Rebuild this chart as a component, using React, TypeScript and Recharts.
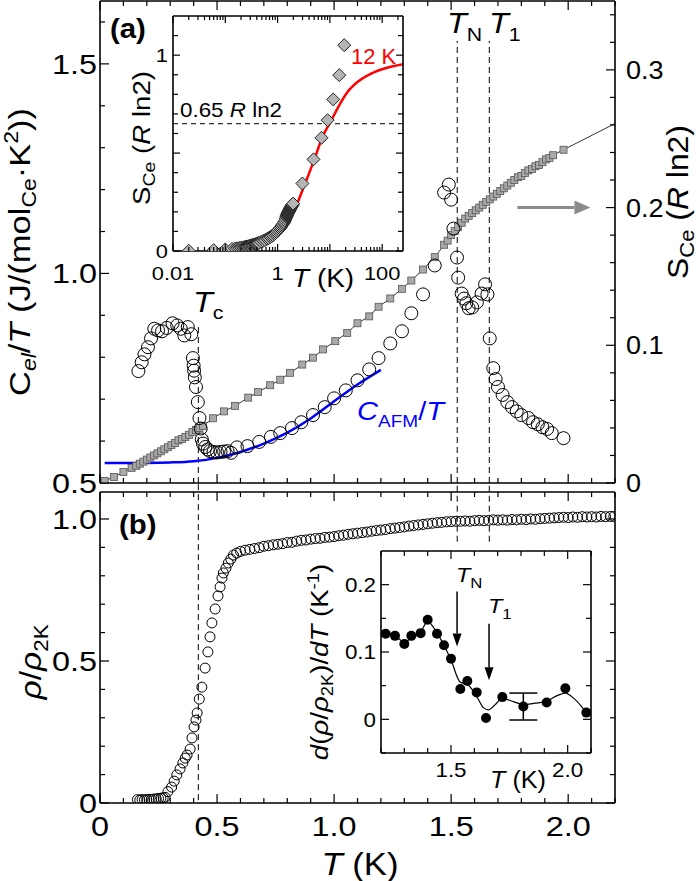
import React from 'react';
import { ComposedChart, Line, Scatter, XAxis, YAxis, ReferenceLine, ErrorBar } from 'recharts';

const FONT = '"Liberation Sans", Arial, Helvetica, sans-serif';
const SX = 1.12;

// ---------- Panel (a): entropy S_Ce (right axis), grey squares ----------
const sT = [0.02, 0.06, 0.10, 0.135, 0.155, 0.17, 0.185, 0.20, 0.215, 0.23, 0.245, 0.26, 0.275, 0.29, 0.305, 0.32, 0.335, 0.35, 0.365, 0.38, 0.395, 0.41, 0.425, 0.44,
  0.483, 0.53, 0.577, 0.633, 0.675, 0.727, 0.77, 0.812, 0.864, 0.91, 0.953, 1.005, 1.056, 1.10, 1.15, 1.19, 1.24, 1.29, 1.33, 1.38, 1.43,
  1.47, 1.485, 1.50, 1.515, 1.53, 1.545, 1.56, 1.575, 1.59, 1.605, 1.62, 1.635, 1.65, 1.665, 1.68, 1.695, 1.71, 1.725, 1.74, 1.755, 1.77, 1.785, 1.80, 1.815, 1.83, 1.845, 1.86, 1.875, 1.89, 1.905, 1.92, 1.935, 1.98];
const sVal = [0.0015, 0.0044, 0.008, 0.011, 0.0125, 0.014, 0.0155, 0.017, 0.0185, 0.020, 0.0215, 0.023, 0.0245, 0.026, 0.0275, 0.029, 0.031, 0.032, 0.0335, 0.035, 0.037, 0.0385, 0.040, 0.0415,
  0.047, 0.052, 0.056, 0.062, 0.066, 0.071, 0.075, 0.080, 0.086, 0.091, 0.097, 0.103, 0.109, 0.116, 0.121, 0.128, 0.134, 0.141, 0.147, 0.155, 0.164,
  0.173, 0.176, 0.180, 0.183, 0.186, 0.189, 0.192, 0.194, 0.196, 0.198, 0.200, 0.202, 0.204, 0.206, 0.208, 0.210, 0.212, 0.214, 0.216, 0.218, 0.220, 0.222, 0.223, 0.225, 0.227, 0.228, 0.230, 0.231, 0.233, 0.235, 0.236, 0.238, 0.242];
const sTailT = 2.2;
const sTailVal = 0.261;

// ---------- Panel (a): C_el/T open circles (left axis) ----------
const cT = [0.164, 0.178, 0.19, 0.205, 0.218, 0.232, 0.248, 0.265, 0.285, 0.31, 0.33, 0.345, 0.36, 0.375, 0.39,
  0.397, 0.40, 0.402, 0.405, 0.41, 0.418, 0.425, 0.43, 0.435, 0.44, 0.45, 0.46, 0.47, 0.485, 0.50, 0.515, 0.53, 0.545, 0.56, 0.585,
  0.63, 0.68, 0.73, 0.77, 0.82, 0.86, 0.91, 0.96, 1.00, 1.05, 1.10, 1.15, 1.19, 1.24, 1.29, 1.33, 1.38, 1.43,
  1.47, 1.49, 1.50, 1.51, 1.525, 1.53, 1.545, 1.555, 1.565, 1.575, 1.59, 1.61, 1.63, 1.645, 1.655,
  1.665, 1.68, 1.69, 1.70, 1.72, 1.74, 1.76, 1.78, 1.80, 1.83, 1.85, 1.87, 1.89, 1.91, 1.93, 1.98];
const cVal = [0.767, 0.788, 0.807, 0.824, 0.845, 0.868, 0.864, 0.862, 0.870, 0.881, 0.876, 0.868, 0.852, 0.872, 0.855,
  0.798, 0.780, 0.768, 0.752, 0.729, 0.693, 0.655, 0.630, 0.604, 0.594, 0.586, 0.580, 0.576, 0.574, 0.573, 0.574, 0.575, 0.576, 0.572, 0.585,
  0.588, 0.598, 0.610, 0.619, 0.631, 0.645, 0.662, 0.681, 0.702, 0.721, 0.745, 0.771, 0.798, 0.833, 0.862, 0.905, 0.950, 1.019,
  1.193, 1.212, 1.176, 1.107, 1.038, 0.990, 0.952, 0.940, 0.929, 0.917, 0.919, 0.931, 0.952, 0.974, 0.950,
  0.845, 0.774, 0.748, 0.729, 0.710, 0.693, 0.681, 0.671, 0.662, 0.655, 0.645, 0.640, 0.633, 0.629, 0.619, 0.607];

// C_AFM/T (blue)
const afmT = [0.02, 0.1, 0.2, 0.3, 0.4, 0.5, 0.6, 0.7, 0.8, 0.9, 1.0, 1.1, 1.2];
const afmVal = [0.548, 0.548, 0.548, 0.549, 0.552, 0.560, 0.574, 0.594, 0.620, 0.654, 0.695, 0.735, 0.770];

// characteristic temperatures
const Tc = 0.42;
const TN = 1.526;
const T1 = 1.663;

// ---------- Inset (a): S_Ce vs log T ----------
const hiT = [2.98, 4.86, 6.92, 9.03, 11.57, 15.1, 18.8];
const hiVal = [0.345, 0.468, 0.578, 0.668, 0.774, 0.898, 1.051];
const fitT = [0.1345, 0.407, 0.733, 1.32, 2.22, 3.2, 4.99, 7.24, 10.45, 14.1, 21.9, 34.1, 61.4, 128.8, 257];
const fitVal = [0.014, 0.039, 0.073, 0.124, 0.225, 0.33, 0.464, 0.583, 0.663, 0.73, 0.813, 0.864, 0.906, 0.937, 0.954];
const level065 = 0.65;

// ---------- Panel (b): rho / rho_2K ----------
const rT = [0.16, 0.17, 0.18, 0.19, 0.20, 0.21, 0.22, 0.23, 0.24, 0.25, 0.26, 0.27,
  0.278, 0.29, 0.306, 0.317, 0.328, 0.342, 0.354, 0.364, 0.372, 0.385, 0.393, 0.402, 0.41, 0.415, 0.424, 0.435, 0.449, 0.461, 0.47, 0.478, 0.492, 0.504, 0.513, 0.521, 0.527, 0.538, 0.548, 0.559, 0.57, 0.584, 0.60,
  0.62, 0.64, 0.66, 0.68, 0.70, 0.72, 0.74, 0.76, 0.78, 0.80, 0.82, 0.84, 0.86, 0.88, 0.90, 0.92, 0.94, 0.96, 0.98, 1.00,
  1.02, 1.04, 1.06, 1.08, 1.10, 1.12, 1.14, 1.16, 1.18, 1.20, 1.22, 1.24, 1.26, 1.28, 1.30, 1.32, 1.34, 1.36, 1.38, 1.40,
  1.42, 1.44, 1.46, 1.48, 1.50, 1.52, 1.54, 1.56, 1.58, 1.60, 1.62, 1.64, 1.66, 1.68, 1.70, 1.72, 1.74, 1.76, 1.78, 1.80,
  1.82, 1.84, 1.86, 1.88, 1.90, 1.92, 1.94, 1.96, 1.98, 2.00, 2.02, 2.04, 2.06, 2.08, 2.10, 2.12, 2.14, 2.16, 2.18, 2.195];
const rVal = [0.012, 0.010, 0.012, 0.011, 0.012, 0.013, 0.012, 0.014, 0.014, 0.016, 0.017, 0.018,
  0.020, 0.040, 0.056, 0.077, 0.099, 0.120, 0.141, 0.158, 0.169, 0.190, 0.229, 0.268, 0.292, 0.317, 0.366, 0.408, 0.475, 0.532, 0.585, 0.634, 0.683, 0.729, 0.761, 0.792, 0.810, 0.827, 0.845, 0.859, 0.873, 0.880, 0.886,
  0.890, 0.893, 0.896, 0.899, 0.904, 0.906, 0.909, 0.911, 0.913, 0.917, 0.918, 0.922, 0.925, 0.926, 0.929, 0.931, 0.932, 0.935, 0.936, 0.938,
  0.941, 0.943, 0.946, 0.948, 0.950, 0.952, 0.954, 0.957, 0.959, 0.961, 0.963, 0.966, 0.968, 0.970, 0.972, 0.975, 0.977, 0.979, 0.981, 0.983,
  0.985, 0.987, 0.988, 0.990, 0.991, 0.992, 0.992, 0.993, 0.992, 0.994, 0.995, 0.994, 0.995, 0.997, 0.996, 0.997, 0.996, 0.998, 0.997, 0.999,
  0.998, 1.000, 0.999, 1.001, 1.002, 1.003, 1.004, 1.005, 1.006, 1.005, 1.007, 1.006, 1.008, 1.007, 1.008, 1.007, 1.009, 1.008, 1.009, 1.009];

// ---------- Inset (b): d(rho/rho_2K)/dT ----------
const dT = [1.22, 1.26, 1.30, 1.33, 1.37, 1.40, 1.44, 1.47, 1.50, 1.54, 1.57, 1.61, 1.65, 1.72, 1.81, 1.91, 1.99, 2.08];
const dVal = [0.127, 0.124, 0.112, 0.124, 0.128, 0.148, 0.127, 0.110, 0.090, 0.045, 0.057, 0.040, 0.002, 0.033, 0.019, 0.025, 0.046, 0.010];
const dFitT = [1.20, 1.22, 1.26, 1.30, 1.33, 1.37, 1.40, 1.44, 1.47, 1.50, 1.54, 1.57, 1.61, 1.64, 1.66, 1.69, 1.72, 1.77, 1.81, 1.86, 1.91, 1.96, 1.99, 2.03, 2.08];
const dFitVal = [0.132, 0.130, 0.124, 0.115, 0.120, 0.130, 0.145, 0.128, 0.110, 0.088, 0.055, 0.052, 0.034, 0.017, 0.014, 0.022, 0.031, 0.026, 0.022, 0.024, 0.027, 0.036, 0.039, 0.030, 0.010];
const errT = 1.81;
const errVal = 0.019;
const errSize = 0.02;

// ---------- ticks ----------
const xTicks = [0, 0.1, 0.2, 0.3, 0.4, 0.5, 0.6, 0.7, 0.8, 0.9, 1, 1.1, 1.2, 1.3, 1.4, 1.5, 1.6, 1.7, 1.8, 1.9, 2, 2.1, 2.2];
const xMajor = [0, 0.5, 1, 1.5, 2];
const xMajorText = ['0', '0.5', '1.0', '1.5', '2.0'];
const cTicks = [0.5, 0.6, 0.7, 0.8, 0.9, 1, 1.1, 1.2, 1.3, 1.4, 1.5, 1.6];
const cMajor = [0.5, 1, 1.5];
const cMajorText = ['0.5', '1.0', '1.5'];
const sTicks = [0, 0.02, 0.04, 0.06, 0.08, 0.1, 0.12, 0.14, 0.16, 0.18, 0.2, 0.22, 0.24, 0.26, 0.28, 0.3, 0.32, 0.34];
const sMajor = [0, 0.1, 0.2, 0.3];
const sMajorText = ['0', '0.1', '0.2', '0.3'];
const rhoTicks = [0, 0.1, 0.2, 0.3, 0.4, 0.5, 0.6, 0.7, 0.8, 0.9, 1];
const rhoMajor = [0, 0.5, 1];
const rhoMajorText = ['0', '0.5', '1.0'];
const logDecades = [0.01, 0.1, 1, 10, 100];
const logSteps = [1, 2, 3, 4, 5, 6, 7, 8, 9];
const iaXTicks = logDecades.flatMap((d) => logSteps.map((m) => +(m * d).toPrecision(3))).filter((v) => v <= 250);
const iaXLabelVals = [0.01, 1, 100];
const iaXLabelText = ['0.01', '1', '100'];
const iaYTicks = [0, 0.1, 0.2, 0.3, 0.4, 0.5, 0.6, 0.7, 0.8, 0.9, 1, 1.1];
const iaYMajor = [0, 0.5, 1];
const iaYMajorText = ['0', null, '1'];
const ibXTicks = [1.2, 1.3, 1.4, 1.5, 1.6, 1.7, 1.8, 1.9, 2, 2.1];
const ibXMajor = [1.5, 2];
const ibXMajorText = ['1.5', '2.0'];
const ibYTicks = [-0.05, 0, 0.05, 0.1, 0.15, 0.2];
const ibYMajor = [0, 0.1, 0.2];
const ibYMajorText = ['0', '0.1', '0.2'];

const key = (v: number) => String(Math.round(v * 1e6) / 1e6);

function makeTick(side: string, majors: number[], texts: (string | null)[] | null, fs: number, gap: number, majLen = 9, minLen = 5, tsx = 1.2) {
  const m = new Map<string, string | null>(majors.map((v, i) => [key(v), texts ? texts[i] : null]));
  return (props: any) => {
    const { x, y, payload } = props;
    const k = key(payload.value);
    const isMaj = m.has(k);
    const label = isMaj ? m.get(k) : null;
    const len = isMaj ? majLen : minLen;
    let x2 = x, y2 = y, tx = x, ty = y;
    let anchor = 'middle';
    if (side === 'bottom') { y2 = y - len; ty = y + gap; }
    else if (side === 'top') { y2 = y + len; ty = y - gap; }
    else if (side === 'left') { x2 = x + len; tx = x - gap; ty = y + fs * 0.36; anchor = 'end'; }
    else { x2 = x - len; tx = x + gap; ty = y + fs * 0.36; anchor = 'start'; }
    return (
      <g>
        <line x1={x} y1={y} x2={x2} y2={y2} stroke="#000" strokeWidth={1.2} />
        {label ? (
          <text transform={`translate(${tx},${ty}) scale(${tsx},1)`} textAnchor={anchor} fontSize={fs} fontFamily={FONT} fill="#000">{label}</text>
        ) : null}
      </g>
    );
  };
}

const axisLine = { stroke: '#000', strokeWidth: 1.6 };

const Square = (p: any) => <rect x={p.cx - 3.5} y={p.cy - 3.5} width={7} height={7} fill="#a9a9a9" stroke="#555" strokeWidth={0.8} />;
const BigCircle = (p: any) => <circle cx={p.cx} cy={p.cy} r={6.5} fill="none" stroke="#000" strokeWidth={1} />;
const SmallCircle = (p: any) => <circle cx={p.cx} cy={p.cy} r={5} fill="none" stroke="#000" strokeWidth={1} />;
const Dot = (p: any) => <circle cx={p.cx} cy={p.cy} r={5} fill="#000" />;
const Diamond = (p: any) => (
  <polygon points={`${p.cx},${p.cy - 6.5} ${p.cx + 6.5},${p.cy} ${p.cx},${p.cy + 6.5} ${p.cx - 6.5},${p.cy}`} fill="#b5b5b5" stroke="#222" strokeWidth={1} />
);
const Nothing = () => <g />;

const arrowShape = (color: string, w: number, L: number, W: number) => (p: any) => {
  const { x1, y1, x2, y2 } = p;
  const dx = x2 - x1, dy = y2 - y1;
  const len = Math.hypot(dx, dy) || 1;
  const ux = dx / len, uy = dy / len;
  const bx = x2 - ux * L, by = y2 - uy * L;
  const px = -uy, py = ux;
  return (
    <g>
      <line x1={x1} y1={y1} x2={bx} y2={by} stroke={color} strokeWidth={w} />
      <polygon points={`${x2},${y2} ${bx + px * W},${by + py * W} ${bx - px * W},${by - py * W}`} fill={color} />
    </g>
  );
};

const Txt = ({ x, y, rot = 0, sx = SX, anchor = 'start', fs, children, ...rest }: any) => (
  <text transform={`translate(${x},${y}) rotate(${rot}) scale(${sx},1)`} textAnchor={anchor} fontSize={fs} fontFamily={FONT} fill="#000" {...rest}>
    {children}
  </text>
);

const dash = '6 4';

// shared axis props (axes need width/height >= 1 to render)
const xAx = (id: string, orient: 'top' | 'bottom', domain: number[], ticks: number[], tick: any, scale: any = 'auto') => (
  <XAxis xAxisId={id} orientation={orient} dataKey="x" type="number" scale={scale} domain={domain} ticks={ticks} interval={0} allowDataOverflow height={1}
    tickSize={0} tickMargin={0} tickLine={false} axisLine={axisLine} tick={tick} />
);
const yAx = (id: string, orient: 'left' | 'right', domain: number[], ticks: number[], tick: any) => (
  <YAxis yAxisId={id} orientation={orient} dataKey="y" type="number" domain={domain} ticks={ticks} interval={0} allowDataOverflow width={1}
    tickSize={0} tickMargin={0} tickLine={false} axisLine={axisLine} tick={tick} />
);

export default function App() {
  const sPts = sT.map((x, i) => ({ x, y: sVal[i] }));
  const sLinePts = [...sPts, { x: sTailT, y: sTailVal }];
  const cPts = cT.map((x, i) => ({ x, y: cVal[i] }));
  const afmPts = afmT.map((x, i) => ({ x, y: afmVal[i] }));
  const hiPts = hiT.map((x, i) => ({ x, y: hiVal[i] }));
  const fitPts = fitT.map((x, i) => ({ x, y: fitVal[i] }));
  const rPts = rT.map((x, i) => ({ x, y: rVal[i] }));
  const dPts = dT.map((x, i) => ({ x, y: dVal[i] }));
  const dFitPts = dFitT.map((x, i) => ({ x, y: dFitVal[i] }));
  const errPts = [{ x: errT, y: errVal, e: errSize }];
  const iaXText = logDecades.map((d) => { const i = iaXLabelVals.indexOf(d); return i >= 0 ? iaXLabelText[i] : null; });

  const abs = { position: 'absolute' as const, left: 0, top: 0 };

  return (
    <div style={{ position: 'absolute', left: 0, top: 0, width: 700, height: 881, background: '#fff', overflow: 'hidden' }}>
      {/* Panel (a) */}
      <div style={abs}>
        <ComposedChart width={700} height={500} margin={{ top: 0, right: 84, bottom: 16, left: 99 }}>
          {xAx('b', 'bottom', [0, 2.2], xTicks, makeTick('bottom', xMajor, null, 27, 32))}
          {xAx('t', 'top', [0, 2.2], xTicks, makeTick('top', xMajor, null, 27, 32))}
          {yAx('c', 'left', [0.5, 1.65], cTicks, makeTick('left', cMajor, cMajorText, 27, 3))}
          {yAx('s', 'right', [0, 0.35], sTicks, makeTick('right', sMajor, sMajorText, 25, 11, 9, 5, 1.08))}
          <ReferenceLine xAxisId="b" yAxisId="c" segment={[{ x: Tc, y: 0.5 }, { x: Tc, y: 0.872 }]} stroke="#000" strokeWidth={1} strokeDasharray={dash} ifOverflow="visible" />
          <ReferenceLine xAxisId="b" yAxisId="c" segment={[{ x: TN, y: 0.5 }, { x: TN, y: 1.555 }]} stroke="#000" strokeWidth={1} strokeDasharray={dash} ifOverflow="visible" />
          <ReferenceLine xAxisId="b" yAxisId="c" segment={[{ x: T1, y: 0.5 }, { x: T1, y: 1.555 }]} stroke="#000" strokeWidth={1} strokeDasharray={dash} ifOverflow="visible" />
          <ReferenceLine xAxisId="b" yAxisId="s" segment={[{ x: 1.783, y: 0.2 }, { x: 2.095, y: 0.2 }]} shape={arrowShape('#8c8c8c', 3, 16, 7)} ifOverflow="visible" />
          <Line xAxisId="b" yAxisId="s" data={sLinePts} dataKey="y" type="linear" dot={false} stroke="#000" strokeWidth={0.8} isAnimationActive={false} />
          <Scatter xAxisId="b" yAxisId="s" data={sPts} dataKey="y" shape={Square} isAnimationActive={false} />
          <Line xAxisId="b" yAxisId="c" data={afmPts} dataKey="y" type="monotone" dot={false} stroke="#0000ff" strokeWidth={2.5} isAnimationActive={false} />
          <Scatter xAxisId="b" yAxisId="c" data={cPts} dataKey="y" shape={BigCircle} isAnimationActive={false} />
        </ComposedChart>
      </div>

      {/* Panel (b) */}
      <div style={abs}>
        <ComposedChart width={700} height={881} margin={{ top: 491, right: 84, bottom: 77, left: 99 }}>
          {xAx('b', 'bottom', [0, 2.2], xTicks, makeTick('bottom', xMajor, xMajorText, 27, 33))}
          {xAx('t', 'top', [0, 2.2], xTicks, makeTick('top', xMajor, null, 27, 32))}
          {yAx('r', 'left', [0, 1.095], rhoTicks, makeTick('left', rhoMajor, rhoMajorText, 27, 3))}
          {yAx('m', 'right', [0, 1.095], rhoTicks, makeTick('right', rhoMajor, null, 27, 11))}
          <ReferenceLine xAxisId="b" yAxisId="r" segment={[{ x: Tc, y: 0.01 }, { x: Tc, y: 1.13 }]} stroke="#000" strokeWidth={1} strokeDasharray={dash} ifOverflow="visible" />
          <ReferenceLine xAxisId="b" yAxisId="r" segment={[{ x: TN, y: 0.92 }, { x: TN, y: 1.13 }]} stroke="#000" strokeWidth={1} strokeDasharray={dash} ifOverflow="visible" />
          <ReferenceLine xAxisId="b" yAxisId="r" segment={[{ x: T1, y: 0.92 }, { x: T1, y: 1.13 }]} stroke="#000" strokeWidth={1} strokeDasharray={dash} ifOverflow="visible" />
          <Scatter xAxisId="b" yAxisId="r" data={rPts} dataKey="y" shape={SmallCircle} isAnimationActive={false} />
        </ComposedChart>
      </div>

      {/* Inset (a) */}
      <div style={abs}>
        <ComposedChart width={700} height={300} margin={{ top: 15, right: 296, bottom: 48, left: 172 }}>
          {xAx('b', 'bottom', [0.01, 250], iaXTicks, makeTick('bottom', logDecades, iaXText, 19, 29, 7, 4, 1.15), 'log')}
          {xAx('t', 'top', [0.01, 250], iaXTicks, makeTick('top', logDecades, null, 19, 29, 7, 4), 'log')}
          {yAx('l', 'left', [0, 1.2], iaYTicks, makeTick('left', iaYMajor, iaYMajorText, 19, 5, 7, 5, 1.15))}
          {yAx('rr', 'right', [0, 1.2], iaYTicks, makeTick('right', iaYMajor, null, 19, 5, 7, 5))}
          <ReferenceLine xAxisId="b" yAxisId="l" y={level065} stroke="#000" strokeWidth={1} strokeDasharray="5 4" />
          <Scatter xAxisId="b" yAxisId="l" data={sPts} dataKey="y" shape={Diamond} isAnimationActive={false} />
          <Scatter xAxisId="b" yAxisId="l" data={hiPts} dataKey="y" shape={Diamond} isAnimationActive={false} />
          <Line xAxisId="b" yAxisId="l" data={fitPts} dataKey="y" type="monotone" dot={false} stroke="#ff0000" strokeWidth={2.5} isAnimationActive={false} />
        </ComposedChart>
      </div>

      {/* Inset (b) */}
      <div style={abs}>
        <ComposedChart width={700} height={881} margin={{ top: 550, right: 108, bottom: 127, left: 380 }}>
          {xAx('b', 'bottom', [1.2, 2.1], ibXTicks, makeTick('bottom', ibXMajor, ibXMajorText, 20, 24, 8, 5, 1.12))}
          {xAx('t', 'top', [1.2, 2.1], ibXTicks, makeTick('top', ibXMajor, null, 20, 24, 8, 5))}
          {yAx('l', 'left', [-0.05, 0.25], ibYTicks, makeTick('left', ibYMajor, ibYMajorText, 20, 5, 8, 5, 1.12))}
          {yAx('rr', 'right', [-0.05, 0.25], ibYTicks, makeTick('right', ibYMajor, null, 20, 5, 8, 5))}
          <ReferenceLine xAxisId="b" yAxisId="l" segment={[{ x: TN, y: 0.19 }, { x: TN, y: 0.108 }]} shape={arrowShape('#000', 1.5, 13, 4.5)} />
          <ReferenceLine xAxisId="b" yAxisId="l" segment={[{ x: T1, y: 0.142 }, { x: T1, y: 0.058 }]} shape={arrowShape('#000', 1.5, 13, 4.5)} />
          <Line xAxisId="b" yAxisId="l" data={dFitPts} dataKey="y" type="monotone" dot={false} stroke="#000" strokeWidth={1.2} isAnimationActive={false} />
          <Scatter xAxisId="b" yAxisId="l" data={dPts} dataKey="y" shape={Dot} isAnimationActive={false} />
          <Scatter xAxisId="b" yAxisId="l" data={errPts} dataKey="y" shape={Nothing} isAnimationActive={false}>
            <ErrorBar dataKey="e" direction="y" width={14} stroke="#000" strokeWidth={1.5} />
          </Scatter>
        </ComposedChart>
      </div>

      {/* text annotations */}
      <svg style={abs} width={700} height={881}>
        <Txt x={110} y={38} fs={28} fontWeight="bold" sx={1.05}>(a)</Txt>
        <Txt x={119} y={534} fs={28} fontWeight="bold" sx={1.05}>(b)</Txt>

        <Txt x={447} y={33} fs={29}><tspan fontStyle="italic">T</tspan><tspan fontSize={19} dy={8}>N</tspan></Txt>
        <Txt x={489} y={33} fs={29}><tspan fontStyle="italic">T</tspan><tspan fontSize={19} dy={8}>1</tspan></Txt>
        <Txt x={193} y={312} fs={29}><tspan fontStyle="italic">T</tspan><tspan fontSize={19} dy={7}>c</tspan></Txt>
        <Txt x={357} y={420} fs={26} fill="#0000ff"><tspan fontStyle="italic">C</tspan><tspan fontSize={17} dy={7}>AFM</tspan><tspan dy={-7}>/</tspan><tspan fontStyle="italic">T</tspan></Txt>
        <Txt x={351} y={64} fs={22} sx={1} fill="#ff0000">12 K</Txt>
        <Txt x={180} y={117} fs={20}>0.65 <tspan fontStyle="italic">R</tspan> ln2</Txt>

        <Txt x={30} y={252} rot={-90} anchor="middle" fs={30} sx={1.15}>
          <tspan>C</tspan><tspan fontSize={20} fontStyle="italic" dy={6}>el</tspan><tspan dy={-6}>/</tspan><tspan fontStyle="italic">T</tspan><tspan> (J/(mol</tspan><tspan fontSize={20} dy={6}>Ce</tspan><tspan dy={-6}>·K</tspan><tspan fontSize={20} dy={-12}>2</tspan><tspan dy={12}>))</tspan>
        </Txt>
        <Txt x={688} y={202} rot={-90} anchor="middle" fs={29} sx={1.1}>
          <tspan>S</tspan><tspan fontSize={20} dy={6}>Ce</tspan><tspan dy={-6}> (</tspan><tspan fontStyle="italic">R</tspan><tspan> ln2)</tspan>
        </Txt>
        <Txt x={41} y={662} rot={-90} anchor="middle" fs={30}>
          <tspan fontStyle="italic">ρ</tspan><tspan>/</tspan><tspan fontStyle="italic">ρ</tspan><tspan fontSize={20} dy={7}>2K</tspan>
        </Txt>
        <Txt x={360} y={875} anchor="middle" fs={31}><tspan fontStyle="italic">T</tspan> (K)</Txt>

        <Txt x={150} y={138} rot={-90} anchor="middle" fs={24} sx={1.15}>
          <tspan>S</tspan><tspan fontSize={17} dy={5}>Ce</tspan><tspan dy={-5}> (</tspan><tspan fontStyle="italic">R</tspan><tspan> ln2)</tspan>
        </Txt>
        <Txt x={292} y={287} fs={25}><tspan fontStyle="italic">T</tspan> (K)</Txt>

        <Txt x={328} y={662} rot={-90} anchor="middle" fs={24} sx={1.15}>
          <tspan fontStyle="italic">d</tspan><tspan>(</tspan><tspan fontStyle="italic">ρ</tspan><tspan>/</tspan><tspan fontStyle="italic">ρ</tspan><tspan fontSize={16} dy={5}>2K</tspan><tspan dy={-5}>)/</tspan><tspan fontStyle="italic">dT</tspan><tspan>  (K</tspan><tspan fontSize={16} dy={-9}>-1</tspan><tspan dy={9}>)</tspan>
        </Txt>
        <Txt x={490} y={788} fs={24} sx={1.05}><tspan fontStyle="italic">T</tspan> (K)</Txt>
        <Txt x={456} y={582} fs={21}><tspan fontStyle="italic">T</tspan><tspan fontSize={15} dy={6}>N</tspan></Txt>
        <Txt x={488} y={613} fs={21}><tspan fontStyle="italic">T</tspan><tspan fontSize={15} dy={6}>1</tspan></Txt>
      </svg>
    </div>
  );
}
